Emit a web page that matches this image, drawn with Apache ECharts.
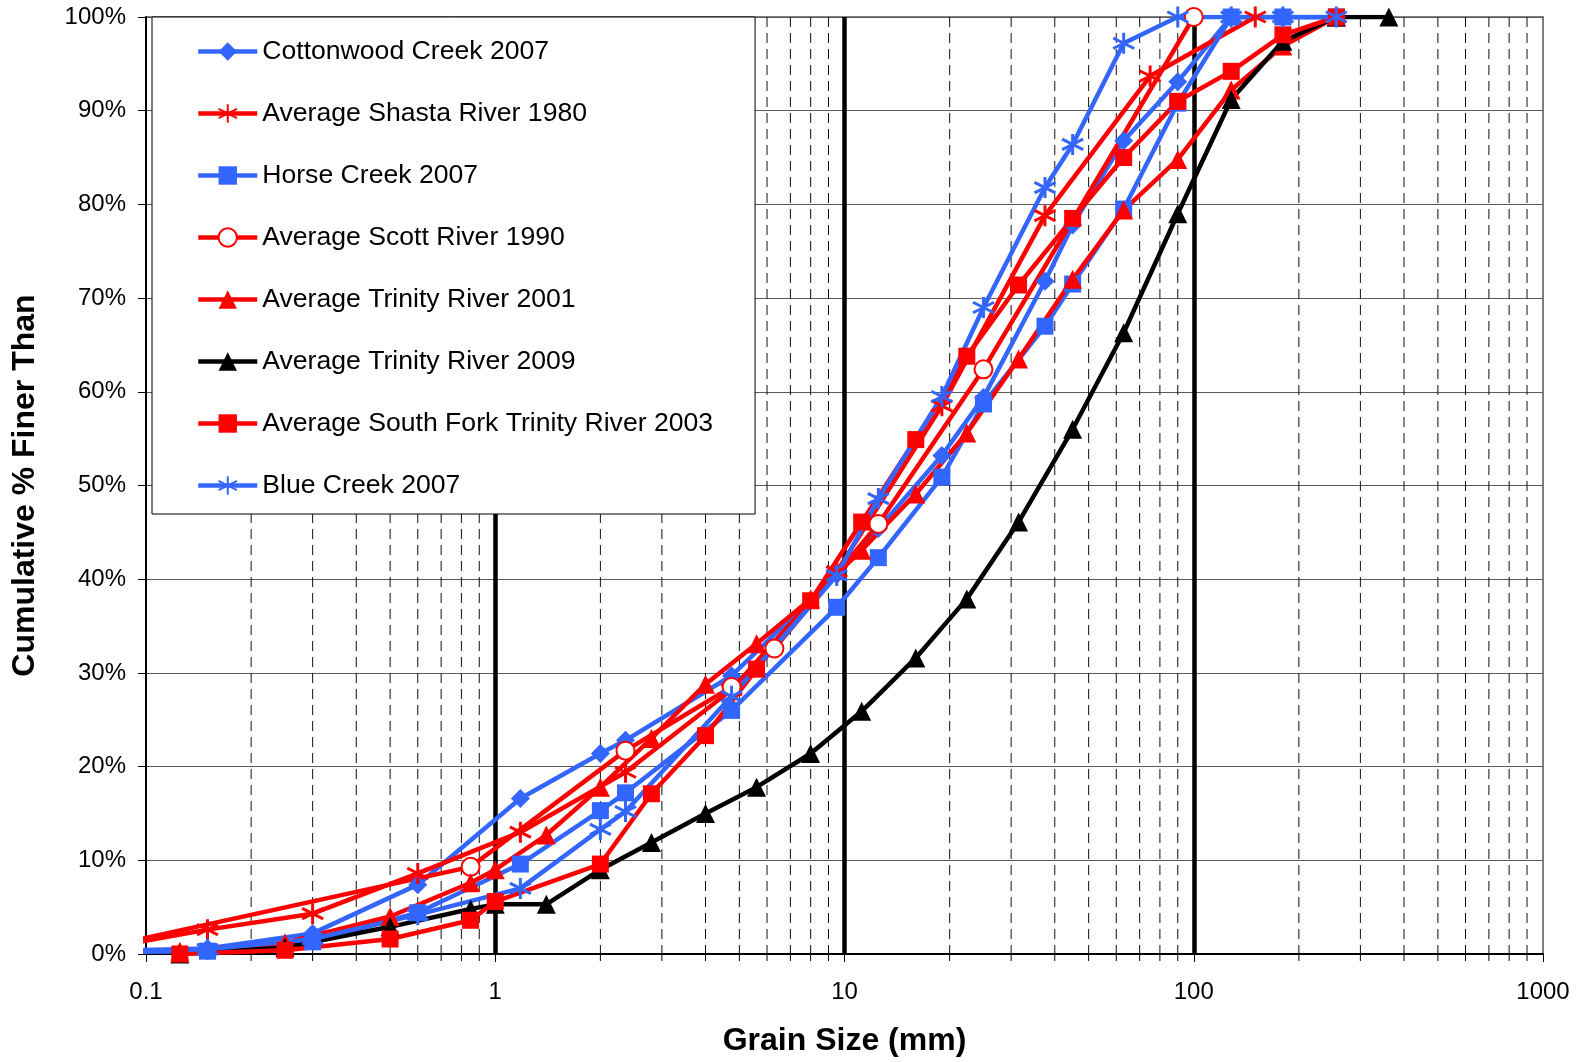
<!DOCTYPE html>
<html>
<head>
<meta charset="utf-8">
<script src="https://cdn.jsdelivr.net/npm/echarts@6/dist/echarts.min.js"></script>
<style>
  html, body { margin: 0; padding: 0; background: #ffffff; }
  #chart { width: 1587px; height: 1062px; }
</style>
</head>
<body>
<div id="chart"></div>
<script>
// Grain sizes (mm) and cumulative percent finer for each survey.
// Values below 0.1 mm fall left of the axis and are clipped by the grid.

// 2007 surveys (Cottonwood, Horse and Blue Creek) share one size set
const sizes2007 = [0.075, 0.15, 0.3, 0.6, 1.18, 2.0, 2.36, 4.75, 9.5, 12.5, 19, 25, 37.5, 45, 63, 90, 128, 180, 256];
const cottonwoodCreek2007 = [0.3, 0.6, 2.2, 7.4, 16.6, 21.4, 22.8, 29.7, 40.5, 45.4, 53.2, 59.4, 71.8, 77.8, 86.8, 93.1, 100, 100, 100];
const horseCreek2007 = [0.2, 0.3, 1.3, 4.4, 9.6, 15.3, 17.2, 26.0, 37.0, 42.3, 50.9, 58.7, 67.0, 71.5, 79.5, 90.8, 100, 100, 100];
const blueCreek2007 = [0.2, 0.5, 1.6, 4.2, 7.0, 13.3, 15.2, 27.5, 40.4, 48.6, 59.5, 69.0, 81.8, 86.4, 97.2, 100, 100, 100, 100];

const sizesShasta1980 = [0.075, 0.15, 0.3, 0.6, 1.18, 2.36, 4.75, 9.5, 19, 37.5, 75, 150];
const shastaRiver1980 = [0.6, 2.6, 4.3, 8.6, 13.0, 19.4, 28.2, 40.8, 58.5, 78.8, 93.7, 100];

const sizesScott1990 = [0.075, 0.85, 2.36, 4.75, 6.3, 12.5, 25, 100];
const scottRiver1990 = [0.7, 9.3, 21.7, 28.5, 32.6, 45.9, 62.4, 100];

const sizesTrinity = [0.125, 0.25, 0.5, 0.85, 1.0, 1.4, 2.0, 2.8, 4.0, 5.6, 8.0, 11.2, 16, 22.4, 31.5, 45, 63, 90, 128, 180, 256, 362];
const trinityRiver2001 = [0.3, 1.2, 4.0, 7.6, 9.0, 12.7, 17.8, 23.0, 28.8, 33.1, 37.9, 43.1, 49.1, 55.6, 63.5, 72.0, 79.4, 84.8, 92.2, 96.9, 100, null];
const trinityRiver2009 = [0, 0.7, 2.9, 4.8, 5.3, 5.3, 9.0, 11.9, 15.0, 17.8, 21.4, 25.9, 31.6, 37.9, 46.1, 56.0, 66.3, 79.0, 91.2, 97.4, 100, 100];

const sizesSouthFork2003 = [0.125, 0.25, 0.5, 0.85, 1.0, 2.0, 2.8, 4.0, 5.6, 8.0, 11.2, 16, 22.4, 31.5, 45, 63, 90, 128, 180, 256];
const southForkTrinity2003 = [0, 0.4, 1.6, 3.6, 5.6, 9.6, 17.1, 23.3, 30.4, 37.7, 46.1, 54.9, 63.8, 71.4, 78.5, 85.0, 91.0, 94.2, 98.1, 100];

// Minor log grid: 2..9 within each decade
const minorMultipliers = [2, 3, 4, 5, 6, 7, 8, 9];
const decadeStarts = [0.1, 1, 10, 100];
const minorGridValues = [];
decadeStarts.forEach(d => minorMultipliers.forEach(m => minorGridValues.push(+(d * m).toPrecision(3))));

const BLUE = '#3366FF';
const RED = '#FF0000';
const BLACK = '#000000';
const FONT = "'Liberation Sans', Arial, sans-serif";
const ASTERISK = 'path://M10 0 L10 20 M1.34 5 L18.66 15 M1.34 15 L18.66 5';

function pairs(sizes, values) {
  return sizes.map((s, i) => [s, values[i]]).filter(p => p[1] !== null && p[1] !== undefined);
}

function lineSeries(name, sizes, values, color, symbol, symbolSize, strokeSymbol) {
  return {
    name: name,
    type: 'line',
    data: pairs(sizes, values),
    clip: true,
    symbol: symbol,
    symbolSize: symbolSize,
    lineStyle: { color: color, width: 4.5 },
    itemStyle: {
      color: color,
      borderColor: color,
      borderWidth: strokeSymbol ? 3 : 0
    },
    emphasis: { disabled: true },
    z: 3
  };
}

const seriesList = [
  {
    type: 'custom',
    name: 'minorGrid',
    silent: true,
    clip: false,
    z: 1,
    data: minorGridValues.map(v => [v, 0]),
    encode: { x: 0, y: 1 },
    renderItem: function (params, api) {
      const v = api.value(0);
      const top = api.coord([v, 100]);
      const bottom = api.coord([v, 0]);
      return {
        type: 'group',
        children: [
          {
            type: 'line',
            shape: { x1: top[0], y1: top[1], x2: bottom[0], y2: bottom[1] },
            style: { stroke: '#111111', lineWidth: 1, lineDash: [10, 6] }
          },
          {
            type: 'line',
            shape: { x1: bottom[0], y1: bottom[1], x2: bottom[0], y2: bottom[1] + 7 },
            style: { stroke: '#000000', lineWidth: 1 }
          }
        ]
      };
    }
  },
  lineSeries('Cottonwood Creek 2007', sizes2007, cottonwoodCreek2007, BLUE, 'diamond', 19, false),
  lineSeries('Average Shasta River 1980', sizesShasta1980, shastaRiver1980, RED, ASTERISK, 21, true),
  lineSeries('Horse Creek 2007', sizes2007, horseCreek2007, BLUE, 'rect', 17, false),
  lineSeries('Average Scott River 1990', sizesScott1990, scottRiver1990, RED, 'emptyCircle', 18, false),
  lineSeries('Average Trinity River 2001', sizesTrinity, trinityRiver2001, RED, 'triangle', 19, false),
  lineSeries('Average Trinity River 2009', sizesTrinity, trinityRiver2009, BLACK, 'triangle', 19, false),
  lineSeries('Average South Fork Trinity River 2003', sizesSouthFork2003, southForkTrinity2003, RED, 'rect', 17, false),
  lineSeries('Blue Creek 2007', sizes2007, blueCreek2007, BLUE, ASTERISK, 21, true)
];

const legendNames = [
  'Cottonwood Creek 2007',
  'Average Shasta River 1980',
  'Horse Creek 2007',
  'Average Scott River 1990',
  'Average Trinity River 2001',
  'Average Trinity River 2009',
  'Average South Fork Trinity River 2003',
  'Blue Creek 2007'
];

const chart = echarts.init(document.getElementById('chart'), null, { renderer: 'canvas' });

chart.setOption({
  animation: false,
  backgroundColor: '#ffffff',
  textStyle: { fontFamily: FONT },
  grid: {
    left: 146,
    right: 44,
    top: 17,
    bottom: 107,
    show: true,
    backgroundColor: 'transparent',
    borderColor: '#7f7f7f',
    borderWidth: 2
  },
  legend: {
    data: legendNames,
    orient: 'vertical',
    left: 152,
    top: 17,
    padding: [21, 42, 15, 44],
    itemWidth: 59,
    itemHeight: 23,
    itemGap: 35,
    selectedMode: false,
    backgroundColor: '#ffffff',
    borderColor: '#000000',
    borderWidth: 1,
    borderRadius: 0,
    lineStyle: { width: 4.5 },
    textStyle: { fontFamily: FONT, fontSize: 26.6, color: '#000000', lineHeight: 21 },
    z: 10
  },
  xAxis: {
    type: 'log',
    logBase: 10,
    min: 0.1,
    max: 1000,
    name: 'Grain Size (mm)',
    nameLocation: 'middle',
    nameGap: 71,
    nameTextStyle: { fontFamily: FONT, fontSize: 32, fontWeight: 'bold', color: '#000000' },
    axisLine: { show: true, onZero: false, lineStyle: { color: '#000000', width: 2 } },
    axisTick: { show: true, inside: false, length: 8, lineStyle: { color: '#000000', width: 1 } },
    axisLabel: {
      fontFamily: FONT,
      fontSize: 24,
      color: '#000000',
      margin: 26,
      formatter: function (v) { return String(+v.toPrecision(6)); }
    },
    splitLine: {
      show: true,
      showMinLine: false,
      showMaxLine: false,
      lineStyle: { color: '#000000', width: 4.5 }
    },
    minorTick: { show: false },
    minorSplitLine: { show: false }
  },
  yAxis: {
    type: 'value',
    min: 0,
    max: 100,
    interval: 10,
    name: 'Cumulative % Finer Than',
    nameLocation: 'middle',
    nameRotate: 90,
    nameGap: 105,
    nameTextStyle: { fontFamily: FONT, fontSize: 32, fontWeight: 'bold', color: '#000000' },
    axisLine: { show: true, lineStyle: { color: '#000000', width: 2 } },
    axisTick: { show: true, inside: false, length: 8, lineStyle: { color: '#000000', width: 1 } },
    axisLabel: {
      fontFamily: FONT,
      fontSize: 24,
      color: '#000000',
      margin: 20,
      formatter: '{value}%'
    },
    splitLine: {
      show: true,
      showMinLine: false,
      lineStyle: { color: '#5a5a5a', width: 1 }
    }
  },
  series: seriesList
});
</script>
</body>
</html>
